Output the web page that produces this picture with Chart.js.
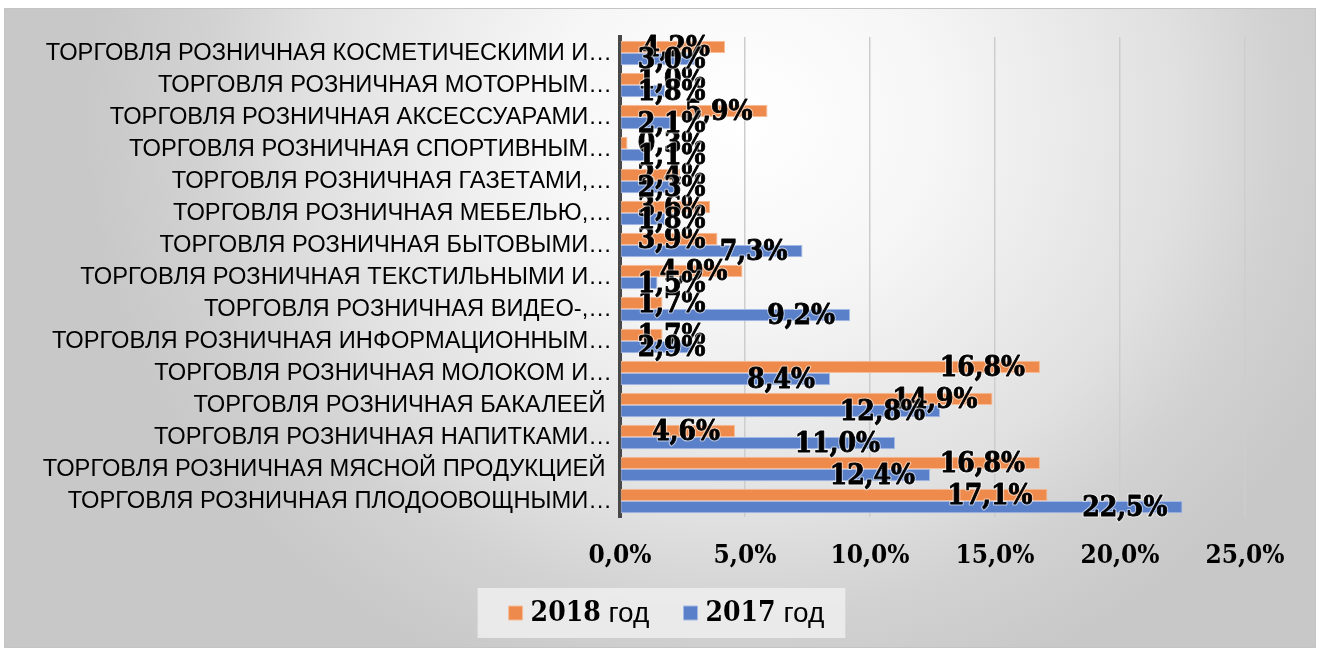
<!DOCTYPE html>
<html lang="ru">
<head>
<meta charset="utf-8">
<title>Торговля розничная, 2017–2018</title>
<script src="https://cdn.jsdelivr.net/npm/chart.js@4.4.1/dist/chart.umd.min.js"></script>
<style>
    html, body {
        margin: 0;
        padding: 0;
        background: #ffffff;
    }
    #frame {
        position: absolute;
        left: 4px;
        top: 8px;
        width: 1312px;
        height: 640px;
        box-sizing: border-box;
        border: 1px solid #c4c4c4;
        background: radial-gradient(ellipse 655px 600px at 736px 112px,
            #ffffff 0%, #f6f6f6 30%, #e0e0e0 67%, #d2d2d2 82%, #c8c8c8 100%);
    }
    #chart {
        display: block;
    }
</style>
</head>
<body>
<div id="frame">
    <canvas id="chart" width="1310" height="638"></canvas>
</div>

<script>
// Categories, top to bottom
const categories = [
    'ТОРГОВЛЯ РОЗНИЧНАЯ КОСМЕТИЧЕСКИМИ И…',
    'ТОРГОВЛЯ РОЗНИЧНАЯ МОТОРНЫМ…',
    'ТОРГОВЛЯ РОЗНИЧНАЯ АКСЕССУАРАМИ…',
    'ТОРГОВЛЯ РОЗНИЧНАЯ СПОРТИВНЫМ…',
    'ТОРГОВЛЯ РОЗНИЧНАЯ ГАЗЕТАМИ,…',
    'ТОРГОВЛЯ РОЗНИЧНАЯ МЕБЕЛЬЮ,…',
    'ТОРГОВЛЯ РОЗНИЧНАЯ БЫТОВЫМИ…',
    'ТОРГОВЛЯ РОЗНИЧНАЯ ТЕКСТИЛЬНЫМИ И…',
    'ТОРГОВЛЯ РОЗНИЧНАЯ ВИДЕО-,…',
    'ТОРГОВЛЯ РОЗНИЧНАЯ ИНФОРМАЦИОННЫМ…',
    'ТОРГОВЛЯ РОЗНИЧНАЯ МОЛОКОМ И…',
    'ТОРГОВЛЯ РОЗНИЧНАЯ БАКАЛЕЕЙ ',
    'ТОРГОВЛЯ РОЗНИЧНАЯ НАПИТКАМИ…',
    'ТОРГОВЛЯ РОЗНИЧНАЯ МЯСНОЙ ПРОДУКЦИЕЙ ',
    'ТОРГОВЛЯ РОЗНИЧНАЯ ПЛОДООВОЩНЫМИ…'
];

// Shares, %
const values2018 = [4.2, 1.0, 5.9, 0.3, 2.4, 3.6, 3.9, 4.9, 1.7, 1.7, 16.8, 14.9, 4.6, 16.8, 17.1];
const values2017 = [3.0, 1.8, 2.1, 1.1, 2.3, 1.8, 7.3, 1.5, 9.2, 2.9, 8.4, 12.8, 11.0, 12.4, 22.5];

const seriesNames = ['2018 год', '2017 год'];
const xTickValues = [0, 5, 10, 15, 20, 25];

const serifBold = '"DejaVu Serif Condensed", "DejaVu Serif", serif';
const sansFont = '"Liberation Sans", Arial, sans-serif';

// 4,2%
function pct(v) {
    return v.toFixed(1).replace('.', ',') + '%';
}

// Value labels near bar ends ("inside end" style)
const barLabels = {
    id: 'barLabels',
    afterDatasetsDraw(chart) {
        const ctx = chart.ctx;
        ctx.save();
        ctx.font = 'bold 28px ' + serifBold;
        ctx.textAlign = 'right';
        ctx.textBaseline = 'middle';
        ctx.lineJoin = 'round';
        chart.data.datasets.forEach((ds, di) => {
            const meta = chart.getDatasetMeta(di);
            meta.data.forEach((bar, i) => {
                const text = pct(ds.data[i]);
                const w = ctx.measureText(text).width;
                const right = Math.max(bar.x - 15, bar.base + 17 + w);
                const y = bar.y + 2;
                ctx.strokeStyle = 'rgba(255,255,255,0.55)';
                ctx.lineWidth = 3;
                ctx.strokeText(text, right, y);
                ctx.fillStyle = '#000000';
                ctx.fillText(text, right, y);
                ctx.strokeStyle = '#000000';
                ctx.lineWidth = 0.8;
                ctx.strokeText(text, right, y);
            });
        });
        ctx.restore();
    }
};

// Legend: centred on the canvas, panel behind it, "2018" bold + "год" regular
function legendTextParts(ctx, item) {
    const parts = item.text.split(' ');
    ctx.font = 'bold 28px ' + serifBold;
    const w1 = ctx.measureText(parts[0]).width;
    ctx.font = '28px ' + sansFont;
    const w2 = ctx.measureText(' ' + parts[1]).width;
    return {year: parts[0], rest: ' ' + parts[1], w1: w1, w2: w2};
}

function legendContentEnd(ctx, lg) {
    const boxes = lg.legendHitBoxes;
    const last = boxes[boxes.length - 1];
    const p = legendTextParts(ctx, lg.legendItems[boxes.length - 1]);
    return last.left + 14 + 8 + p.w1 + p.w2;
}

const legendStyle = {
    id: 'legendStyle',
    afterUpdate(chart) {
        const lg = chart.legend;
        if (!lg || !lg.legendHitBoxes.length) return;
        const start = lg.legendHitBoxes[0].left;
        const end = legendContentEnd(chart.ctx, lg);
        const d = Math.round(chart.width / 2 + 6 - (start + end) / 2);
        lg.left += d;
        lg.right += d;
        lg.legendHitBoxes.forEach(hb => { hb.left += d; });
    },
    beforeDraw(chart) {
        const lg = chart.legend;
        if (!lg || !lg.legendHitBoxes.length) return;
        const ctx = chart.ctx;
        const first = lg.legendHitBoxes[0];
        const endX = legendContentEnd(ctx, lg);
        const cy = first.top + first.height / 2;
        ctx.save();
        ctx.fillStyle = 'rgba(238,238,238,0.85)';
        ctx.fillRect(first.left - 31, cy - 25, endX - first.left + 31 + 21, 50);
        ctx.restore();
    },
    afterDraw(chart) {
        const lg = chart.legend;
        if (!lg) return;
        const ctx = chart.ctx;
        ctx.save();
        ctx.textBaseline = 'middle';
        ctx.textAlign = 'left';
        ctx.fillStyle = '#000000';
        lg.legendHitBoxes.forEach((hb, i) => {
            const p = legendTextParts(ctx, lg.legendItems[i]);
            const x = hb.left + 14 + 8;
            const y = hb.top + hb.height / 2 + 1;
            ctx.font = 'bold 28px ' + serifBold;
            ctx.fillText(p.year, x, y);
            ctx.font = '28px ' + sansFont;
            ctx.fillText(p.rest, x + p.w1, y);
        });
        ctx.restore();
    }
};

new Chart(document.getElementById('chart'), {
    type: 'bar',
    data: {
        labels: categories,
        datasets: [
            {
                label: seriesNames[0],
                data: values2018,
                backgroundColor: '#EE8A4B',
                borderColor: '#F6BC98',
                borderWidth: 1,
                borderSkipped: false
            },
            {
                label: seriesNames[1],
                data: values2017,
                backgroundColor: '#5A80CA',
                borderColor: '#A4B9E3',
                borderWidth: 1,
                borderSkipped: false
            }
        ]
    },
    options: {
        indexAxis: 'y',
        responsive: false,
        animation: false,
        categoryPercentage: 0.76,
        barPercentage: 1.0,
        layout: {
            padding: {top: 28, right: 70, bottom: 10, left: 0}
        },
        plugins: {
            legend: {
                position: 'bottom',
                labels: {
                    boxWidth: 14,
                    boxHeight: 14,
                    padding: 19,
                    color: 'rgba(0,0,0,0)',
                    font: {family: serifBold, weight: 'bold', size: 28}
                }
            },
            tooltip: {
                enabled: false
            }
        },
        scales: {
            x: {
                min: 0,
                max: 25,
                afterBuildTicks: function(scale) {
                    scale.ticks = xTickValues.map(v => ({value: v}));
                },
                afterFit: function(scale) {
                    scale.height = 63;
                },
                grid: {
                    color: '#cdcdcd',
                    lineWidth: 1.5,
                    drawTicks: false
                },
                border: {
                    display: false
                },
                ticks: {
                    padding: 24,
                    color: '#000000',
                    font: {family: serifBold, weight: 'bold', size: 26},
                    callback: function(v) {
                        return pct(v);
                    }
                }
            },
            y: {
                afterFit: function(scale) {
                    scale.width = 615;
                },
                grid: {
                    display: false,
                    drawTicks: false
                },
                border: {
                    display: true,
                    color: '#474747',
                    width: 4
                },
                ticks: {
                    padding: 8,
                    color: '#000000',
                    autoSkip: false,
                    font: {family: sansFont, size: 23.7}
                }
            }
        }
    },
    plugins: [barLabels, legendStyle]
});
</script>
</body>
</html>
